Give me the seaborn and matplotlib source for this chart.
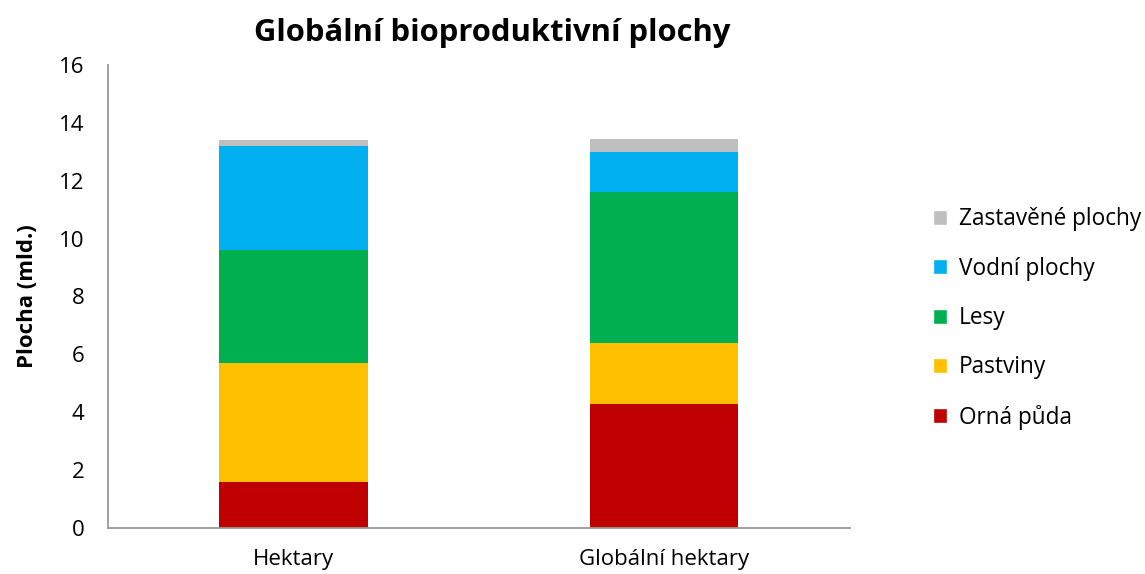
import numpy as np
import pandas as pd
import matplotlib
matplotlib.use("Agg")
import matplotlib.pyplot as plt
import seaborn as sns
from matplotlib.patches import Patch

# data (bil. ha / gha)
categories = ["Hektary", "Globální hektary"]
orna_puda = [1.6, 4.3]
pastviny = [4.1, 2.1]
lesy = [3.9, 5.2]
vodni_plochy = [3.6, 1.4]
zastavene_plochy = [0.2, 0.43]

series_names = ["Orná půda", "Pastviny", "Lesy", "Vodní plochy", "Zastavěné plochy"]
series_values = [orna_puda, pastviny, lesy, vodni_plochy, zastavene_plochy]
colors = ["#C00000", "#FFC000", "#00B050", "#00B0F0", "#BFBFBF"]

sns.set_theme(style="white")
plt.rcParams["font.family"] = ["Open Sans", "DejaVu Sans"]
plt.rcParams["text.color"] = "black"
plt.rcParams["axes.labelcolor"] = "black"

fig = plt.figure(figsize=(11.45, 5.74), dpi=100)
ax = fig.add_axes([0.0943, 0.0801, 0.6477, 0.8067])

# stacked bars: draw cumulative totals from the top layer down
cum = np.cumsum(np.array(series_values), axis=0)
for i in reversed(range(len(series_names))):
    df = pd.DataFrame({"kategorie": categories, "hodnota": cum[i]})
    sns.barplot(data=df, x="kategorie", y="hodnota", color=colors[i],
                width=0.4, saturation=1, linewidth=0, ax=ax, zorder=2)

ax.set_ylim(0, 16)
ax.set_yticks(range(0, 17, 2))
ax.set_xlim(-0.5, 1.5)
ax.tick_params(axis="both", length=0, labelsize=16, colors="black")
ax.tick_params(axis="y", pad=17)
ax.tick_params(axis="x", pad=15)
ax.set_xlabel("")
ax.set_ylabel("Plocha (mld.)", fontsize=16, fontweight="bold", labelpad=15)
for side in ["top", "right"]:
    ax.spines[side].set_visible(False)
for side in ["left", "bottom"]:
    ax.spines[side].set_color("#999999")
    ax.spines[side].set_linewidth(1.3)

fig.suptitle("Globální bioproduktivní plochy", x=0.43, y=0.968,
             fontsize=22.3, fontweight="bold")

handles = [Patch(facecolor=c, label=n) for n, c in zip(series_names, colors)]
leg = fig.legend(handles=handles[::-1], loc="center left",
                 bbox_to_anchor=(0.797, 0.445), frameon=False, fontsize=16.3,
                 handlelength=0.63, handleheight=0.63, handletextpad=0.5,
                 labelspacing=1.12)

fig.savefig("out.png", dpi=100)
